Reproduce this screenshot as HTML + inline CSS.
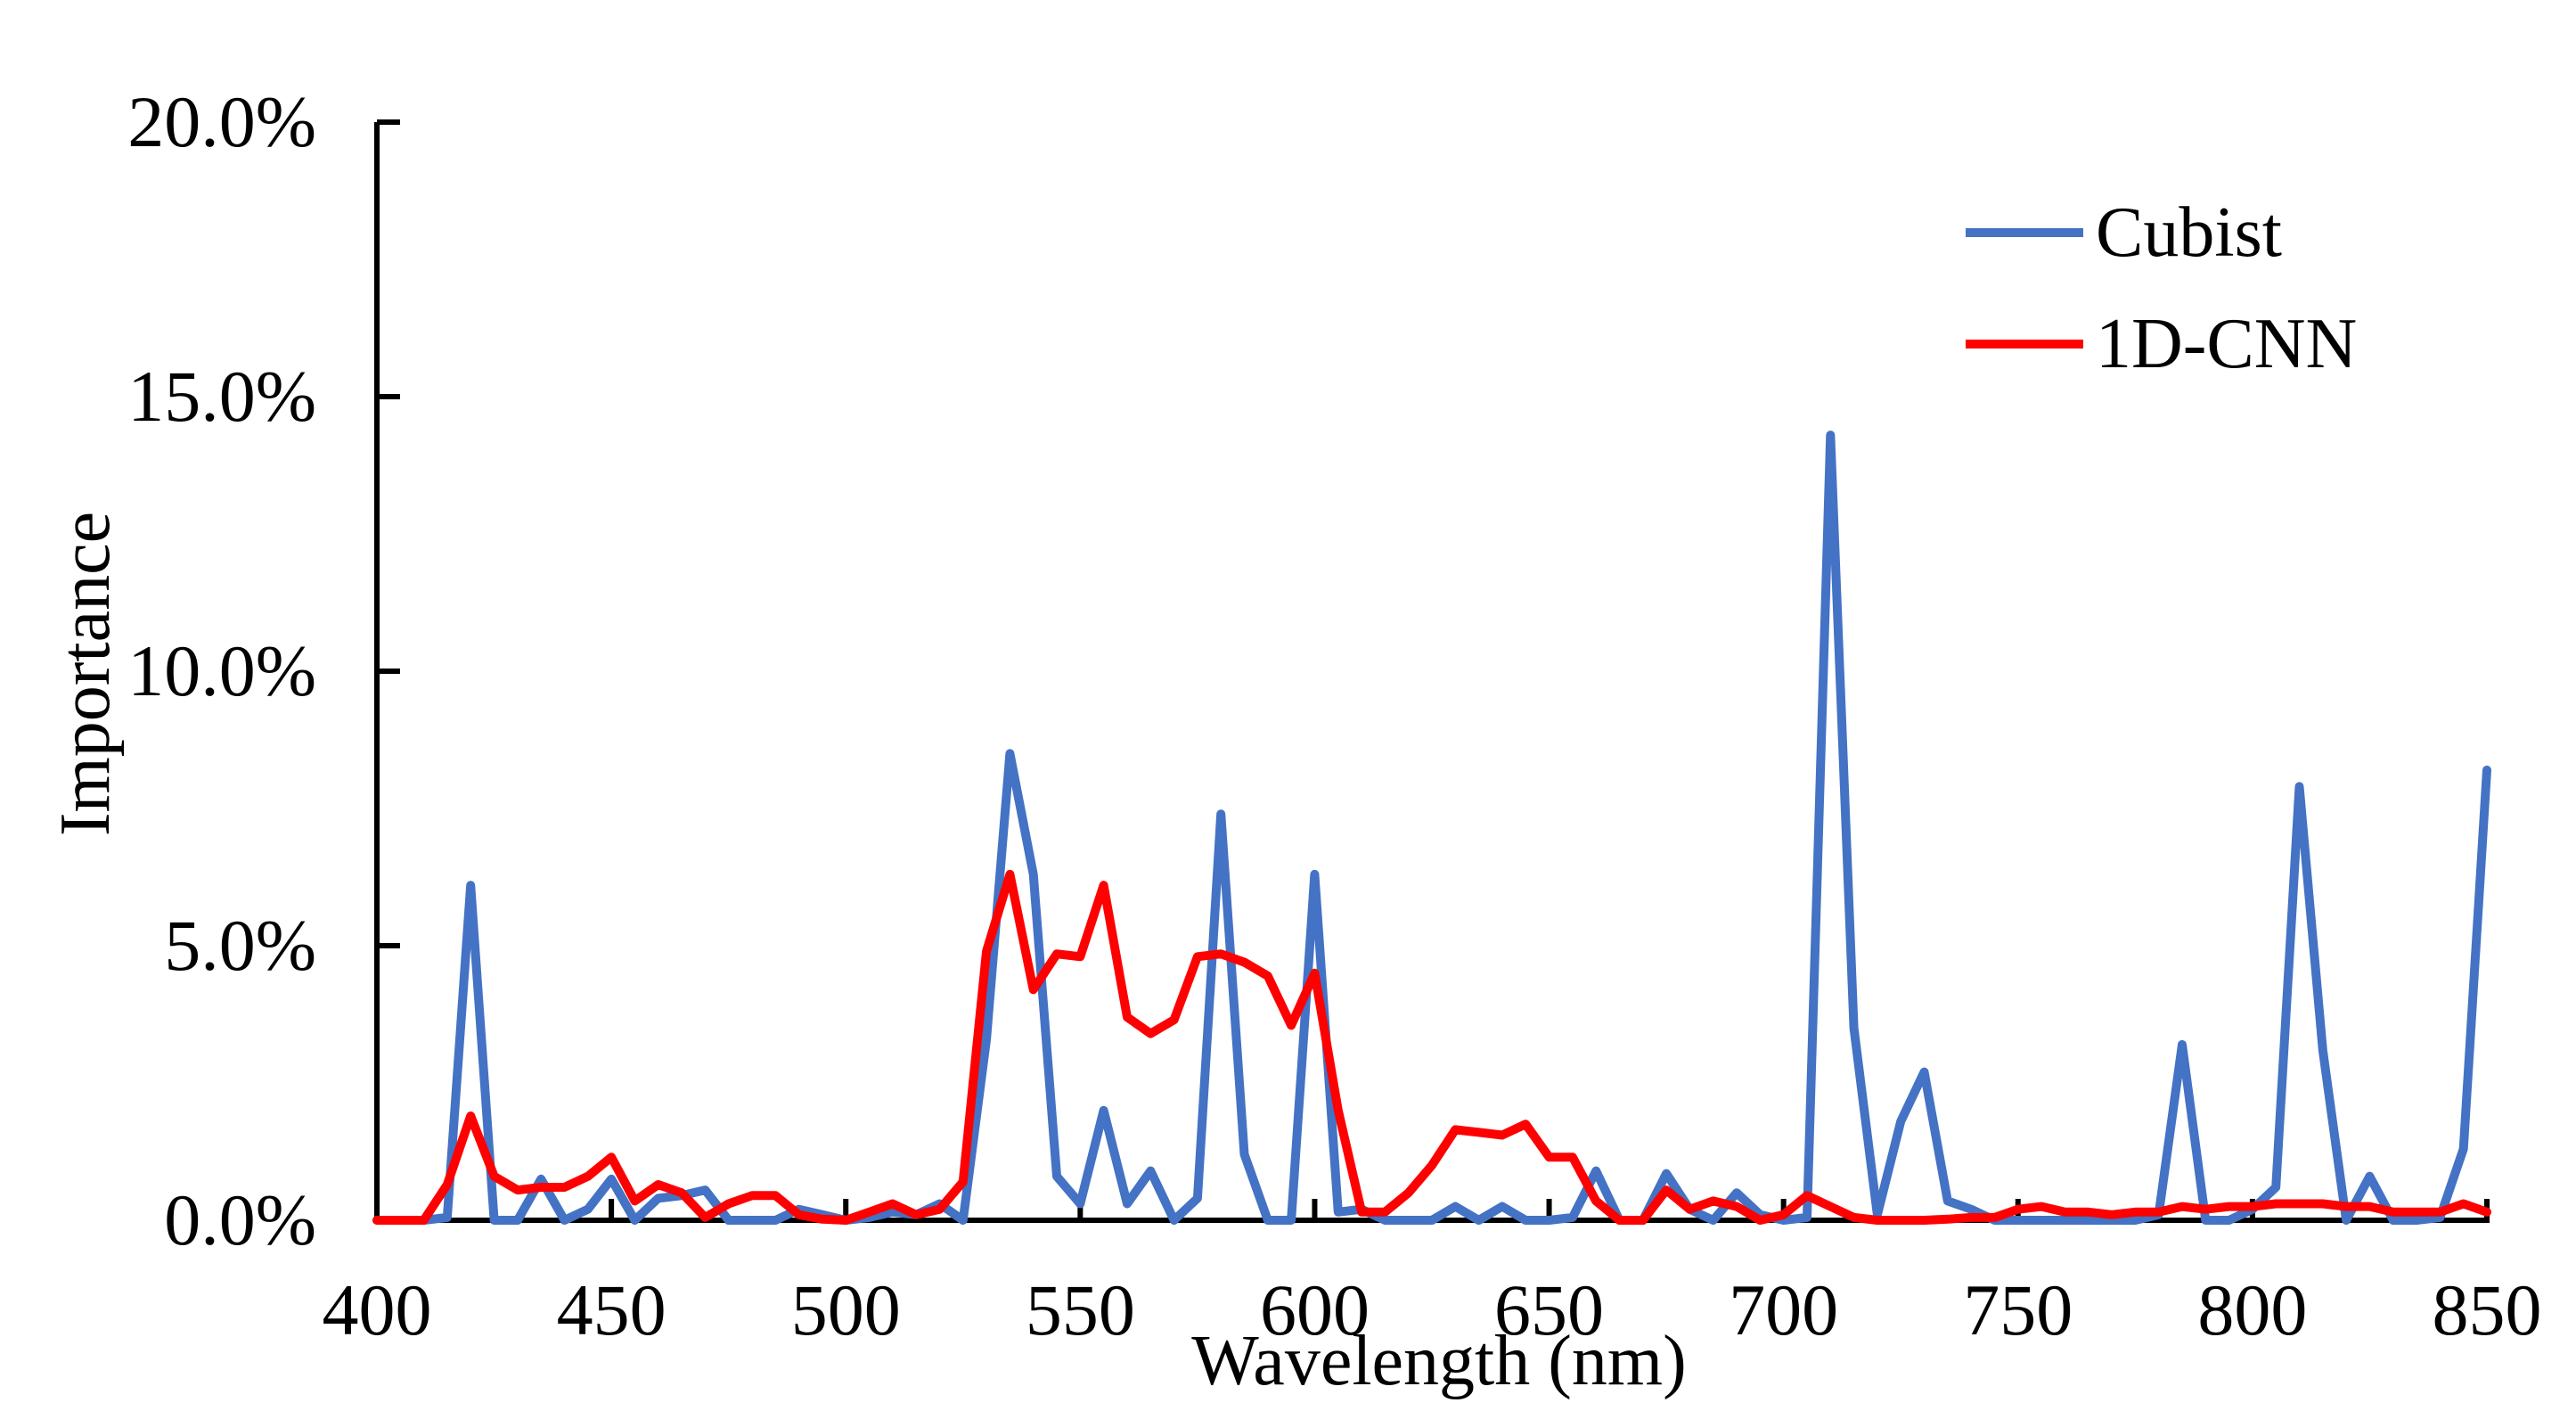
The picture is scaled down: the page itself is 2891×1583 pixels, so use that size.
<!DOCTYPE html>
<html><head><meta charset="utf-8"><style>
html,body{margin:0;padding:0;background:#fff}
svg{display:block}
text{font-family:"Liberation Serif",serif;fill:#000}
</style></head><body>
<svg id="chart" width="2891" height="1583" viewBox="0 0 2891 1583" xmlns="http://www.w3.org/2000/svg">
<rect width="2891" height="1583" fill="#fff"/>
<g id="axes"></g>
<g id="series"></g>
<g>
<line x1="2206" y1="261" x2="2338" y2="261" stroke="#4472C4" stroke-width="10"/>
<text x="2352" y="287" font-size="80">Cubist</text>
<line x1="2206" y1="386" x2="2338" y2="386" stroke="#FF0000" stroke-width="10"/>
<text x="2352" y="412" font-size="80">1D-CNN</text>
</g>
<text x="1615" y="1553" font-size="80" text-anchor="middle">Wavelength (nm)</text>
<text x="0" y="0" font-size="80" text-anchor="middle" transform="translate(122,756) rotate(-90)">Importance</text>
</svg>
<script>
const wavelengths = [];
for (let w = 400; w <= 850; w += 5) wavelengths.push(w);
const cubist = [0,0,0,0.05,6.1,0,0,0.75,0,0.2,0.75,0,0.4,0.45,0.55,0,0,0,0.2,0.1,0,0.05,0.15,0.1,0.3,0,3.3,8.5,6.3,0.8,0.3,2.0,0.3,0.9,0,0.4,7.4,1.2,0,0,6.3,0.15,0.2,0,0,0,0.25,0,0.25,0,0,0.05,0.9,0,0,0.85,0.2,0,0.5,0.1,0,0.05,14.3,3.5,0.1,1.8,2.7,0.35,0.2,0,0,0,0,0,0,0,0.1,3.2,0,0,0.2,0.6,7.9,3.1,0,0.8,0,0,0.05,1.3,8.2];
const cnn = [0,0,0,0.65,1.9,0.8,0.55,0.6,0.6,0.8,1.15,0.35,0.65,0.5,0.05,0.3,0.45,0.45,0.1,0.02,0,0.15,0.3,0.1,0.2,0.7,4.9,6.3,4.2,4.85,4.8,6.1,3.7,3.4,3.65,4.8,4.85,4.7,4.45,3.55,4.5,2.0,0.15,0.15,0.5,1.0,1.65,1.6,1.55,1.75,1.15,1.15,0.35,0,0,0.55,0.2,0.35,0.25,0,0.1,0.45,0.25,0.05,0,0,0,0.02,0.05,0.05,0.2,0.25,0.15,0.15,0.1,0.15,0.15,0.25,0.2,0.25,0.25,0.3,0.3,0.3,0.25,0.25,0.15,0.15,0.15,0.3,0.15];
const xTicks = [400,450,500,550,600,650,700,750,800,850];
const yTicks = [0,5,10,15,20];
const yTickLabels = ["0.0%","5.0%","10.0%","15.0%","20.0%"];

const X0=423, X1=2791, Y0=1369, Y1=137;
const sx = w => X0 + (w-400)/(850-400)*(X1-X0);
const sy = v => Y0 - v/20*(Y0-Y1);
const NS="http://www.w3.org/2000/svg";
const axes=document.getElementById('axes');
function mk(tag, attrs, parent){const e=document.createElementNS(NS,tag);for(const k in attrs)e.setAttribute(k,attrs[k]);parent.appendChild(e);return e;}

const yAxis=mk('line',{x1:X0,y1:Y1,x2:X0,y2:Y0,stroke:'#000','stroke-width':6},axes);


const xAxis=mk('line',{x1:X0-3,y1:Y0,x2:X1+3,y2:Y0,stroke:'#000','stroke-width':6},axes);



yTicks.forEach((v,i)=>{
  const t=mk('line',{x1:X0,y1:sy(v),x2:X0+26,y2:sy(v),stroke:'#000','stroke-width':6},axes);
  
  
  const l=mk('text',{x:355,y:sy(v)+27,'font-size':82,'text-anchor':'end'},axes);
  l.textContent=yTickLabels[i];
  
  
});
xTicks.forEach(w=>{
  const t=mk('line',{x1:sx(w),y1:Y0,x2:sx(w),y2:Y0-24,stroke:'#000','stroke-width':6},axes);
  
  
  const l=mk('text',{x:sx(w),y:1497,'font-size':82,'text-anchor':'middle'},axes);
  l.textContent=String(w);
  
  
});

const series=document.getElementById('series');
function drawLine(vals,color,name){
  const d=vals.map((v,i)=>(i?'L':'M')+sx(wavelengths[i]).toFixed(1)+','+sy(v).toFixed(1)).join(' ');
  const p=mk('path',{d:d,fill:'none',stroke:color,'stroke-width':10,'stroke-linejoin':'round','stroke-linecap':'round'},series);
  
  
}
drawLine(cubist,'#4472C4','cubist-line');
drawLine(cnn,'#FF0000','cnn-line');
</script>
</body></html>
